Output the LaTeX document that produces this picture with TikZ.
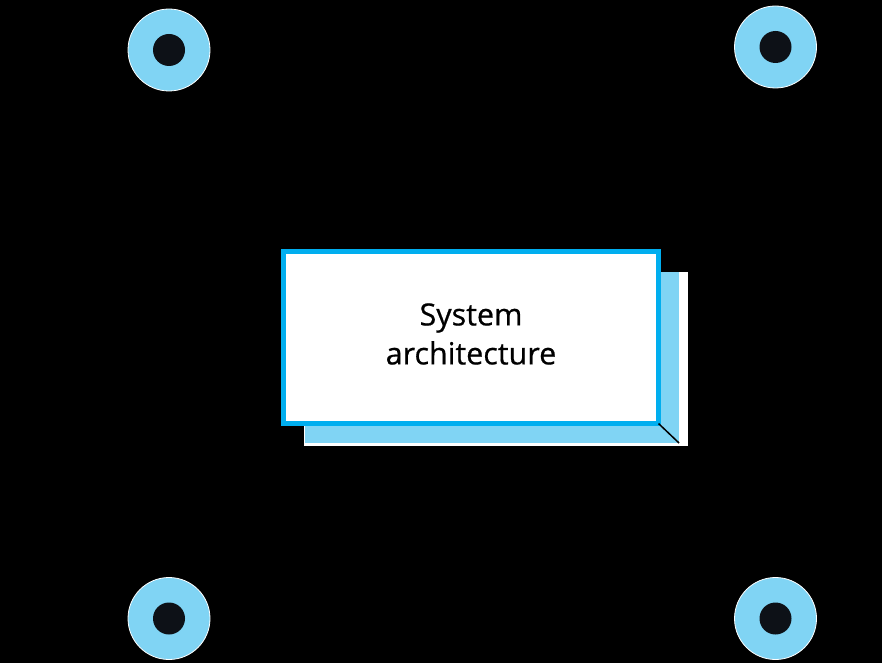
\documentclass[tikz,border=0pt]{standalone}
\usepackage{fontspec}
\setmainfont{Open Sans}
\newfontfamily\boxfont[FakeBold=0.6]{Open Sans}
\definecolor{lblue}{HTML}{80D4F4}
\definecolor{cyanb}{HTML}{00AEEF}
\definecolor{dotc}{HTML}{0D1117}
\begin{document}
\begin{tikzpicture}[x=1pt,y=-1pt,
  disc/.style={circle, fill=lblue, draw=white, line width=0.8pt, minimum size=82pt, inner sep=0pt, outer sep=0pt},
  dotnode/.style={circle, fill=dotc, minimum size=32pt, inner sep=0pt, outer sep=0pt},
  backbox/.style={rectangle, fill=white, inner sep=0pt, outer sep=0pt},
  shadowbox/.style={rectangle, fill=lblue, inner sep=0pt, outer sep=0pt},
  mainbox/.style={rectangle, fill=white, draw=cyanb, line width=5pt, inner sep=0pt, outer sep=0pt},
  boxtext/.style={align=center, inner sep=0pt, font=\boxfont\fontsize{30.5}{39}\selectfont}
]
\fill[black] (0,0) rectangle (882,663);
\useasboundingbox (0,0) rectangle (882,663);
% discs
\node[disc] (tl) at (169,50) {};
\node[dotnode] (tld) at (tl.center) {};
\node[disc] (tr) at (775.5,47) {};
\node[dotnode] (trd) at (tr.center) {};
\node[disc] (bl) at (169,618.5) {};
\node[dotnode] (bld) at (bl.center) {};
\node[disc] (br) at (775.5,618.5) {};
\node[dotnode] (brd) at (br.center) {};
% box with shadow
\node[backbox, minimum width=384pt, minimum height=174pt] (bk) at (495.5,358.5) {};
\node[shadowbox, minimum width=374pt, minimum height=171pt] (sh) at (492,357.5) {};
\node[mainbox, minimum width=375pt, minimum height=172pt] (main) at (471,337.5) {};
\node[boxtext] (lbl) at (471,334) {System\\architecture};
\draw[black, line width=1.5pt] (main.south east) -- (sh.south east);
\end{tikzpicture}
\end{document}
